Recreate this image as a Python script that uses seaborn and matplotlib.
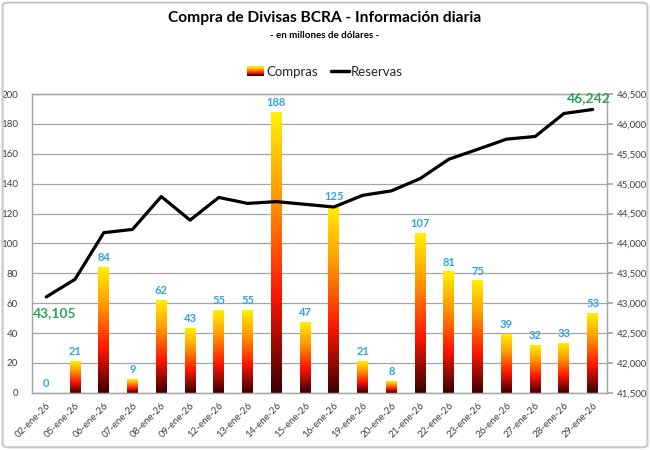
import numpy as np
import pandas as pd
import matplotlib
matplotlib.use("Agg")
import matplotlib.pyplot as plt
import seaborn as sns
from matplotlib.colors import LinearSegmentedColormap
from matplotlib.legend_handler import HandlerBase
from matplotlib.patches import Rectangle, FancyBboxPatch
from matplotlib.lines import Line2D
from matplotlib.ticker import FuncFormatter, MultipleLocator

fechas = ["02-ene-26", "05-ene-26", "06-ene-26", "07-ene-26", "08-ene-26",
          "09-ene-26", "12-ene-26", "13-ene-26", "14-ene-26", "15-ene-26",
          "16-ene-26", "19-ene-26", "20-ene-26", "21-ene-26", "22-ene-26",
          "23-ene-26", "26-ene-26", "27-ene-26", "28-ene-26", "29-ene-26"]
compras = [0, 21, 84, 9, 62, 43, 55, 55, 188, 47, 125, 21, 8, 107, 81, 75, 39, 32, 33, 53]
reservas = [43105, 43400, 44180, 44235, 44785, 44390, 44770, 44670, 44700, 44655,
            44610, 44805, 44880, 45085, 45410, 45575, 45745, 45790, 46175, 46242]

titulo = "Compra de Divisas BCRA - Información diaria"
subtitulo = "- en millones de dólares -"

sns.set_theme(style="white")
plt.rcParams['font.family'] = ['Lato', 'DejaVu Sans']

cmap = LinearSegmentedColormap.from_list(
    'grad', [(0.0, '#3a0000'), (0.35, '#ff1500'), (0.7, '#ff9a00'), (1.0, '#fff000')])

fig = plt.figure(figsize=(6.5, 4.5), dpi=100)
ax = fig.add_axes([0.049, 0.127, 0.885, 0.664])

df = pd.DataFrame({'fecha': fechas, 'compras': compras})
sns.barplot(data=df, x='fecha', y='compras', ax=ax, width=0.38, color='white',
            saturation=1, edgecolor='none', zorder=2)

grad = np.linspace(0, 1, 256).reshape(-1, 1)
for p in list(ax.patches):
    x0, w, h = p.get_x(), p.get_width(), p.get_height()
    p.set_alpha(0)
    if h <= 0:
        continue
    ax.imshow(grad, cmap=cmap, origin='lower', extent=[x0, x0 + w, 0, h],
              aspect='auto', zorder=2, interpolation='bilinear')

for i, v in enumerate(compras):
    ax.text(i, v + 6.5, str(v), ha='center', va='center', color='#2ea3dd',
            fontsize=8, fontweight='bold', zorder=5)

ax.set_xlim(-0.5, len(fechas) - 0.5)
ax.set_ylim(0, 200)
ax.yaxis.set_major_locator(MultipleLocator(20))
ax.set_aspect('auto')
ax.yaxis.grid(True, color='#a6a6a6', lw=0.9)
ax.set_axisbelow(True)
ax.set_xlabel('')
ax.set_ylabel('')
ax.set_xticks(range(len(fechas)))
ax.set_xticklabels(fechas, rotation=45, ha='right', rotation_mode='anchor',
                   fontsize=7, color='#404040')
ax.tick_params(axis='x', length=0, pad=6)
ax.tick_params(axis='y', length=0, labelsize=7, labelcolor='#404040', pad=10)
for s in ['left', 'bottom', 'right', 'top']:
    ax.spines[s].set_color('#a6a6a6')
    ax.spines[s].set_linewidth(0.9)

ax2 = ax.twinx()
sns.lineplot(x=np.arange(len(reservas)), y=reservas, ax=ax2, color='black', lw=2.3, zorder=4)
ax2.set_ylim(41500, 46500)
ax2.yaxis.set_major_locator(MultipleLocator(500))
ax2.yaxis.set_major_formatter(FuncFormatter(lambda v, _: f"{v:,.0f}"))
ax2.tick_params(axis='y', length=4, direction='out', color='#a6a6a6', labelsize=7,
                labelcolor='#404040', pad=3)
ax2.set_ylabel('')
for s in ['left', 'bottom', 'right', 'top']:
    ax2.spines[s].set_color('#a6a6a6')
    ax2.spines[s].set_linewidth(0.9)
ax2.grid(False)

ax2.text(0.3, 42842, f"{reservas[0]:,}", ha='center', va='center', color='#2aa557',
         fontsize=10, fontweight='bold', zorder=6)
ax2.text(18.85, 46433, f"{reservas[-1]:,}", ha='center', va='center', color='#2aa557',
         fontsize=10, fontweight='bold', zorder=6)

fig.text(0.5, 1 - 18 / 450, titulo, ha='center', va='center', fontsize=11.2,
         fontweight='bold', color='black')
fig.text(0.5, 1 - 36 / 450, subtitulo, ha='center', va='center', fontsize=7,
         fontweight='bold', color='black')


class GradProxy:
    pass


class GradHandler(HandlerBase):
    def create_artists(self, legend, orig_handle, xdescent, ydescent, width,
                       height, fontsize, trans):
        n = 24
        arts = []
        for k in range(n):
            r = Rectangle((-xdescent, -ydescent + height * k / n), width, height / n + 0.2,
                          facecolor=cmap(k / (n - 1)), edgecolor='none', transform=trans)
            arts.append(r)
        return arts


fig.legend(handles=[GradProxy(), Line2D([], [], color='black', lw=2.5)],
           labels=['Compras', 'Reservas'], handler_map={GradProxy: GradHandler()},
           loc='center', bbox_to_anchor=(0.5, 1 - 72 / 450), ncol=2, frameon=False,
           fontsize=9.5, handlelength=1.3, columnspacing=1.0, handletextpad=0.2)

fig.patches.append(FancyBboxPatch((0.004, 0.006), 0.992, 0.988,
                                  boxstyle='round,pad=0,rounding_size=0.008',
                                  transform=fig.transFigure, fill=False,
                                  edgecolor='#c8c8c8', lw=1.5))

fig.savefig('out.png', dpi=100)
